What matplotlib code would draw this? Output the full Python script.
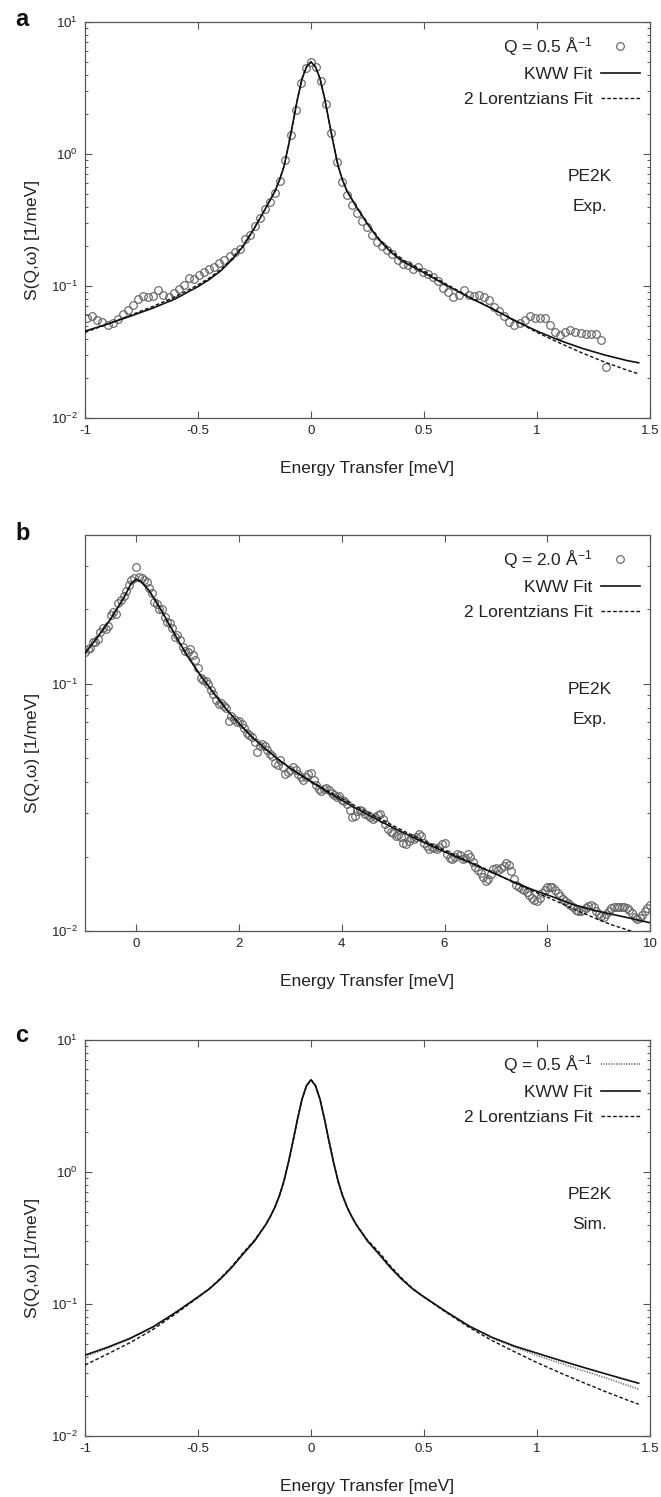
import numpy as np
import matplotlib
matplotlib.use("Agg")
import matplotlib.pyplot as plt
from matplotlib.ticker import FixedLocator, NullFormatter, NullLocator

plt.rcParams['font.family'] = ['Liberation Sans', 'DejaVu Sans']
plt.rcParams['mathtext.fontset'] = 'custom'
plt.rcParams['mathtext.rm'] = 'Liberation Sans'
plt.rcParams['mathtext.it'] = 'Liberation Sans:italic'
plt.rcParams['mathtext.bf'] = 'Liberation Sans:bold'

# ---------------- Panel a : experiment, Q = 0.5 1/A ----------------
a_data_E = [-0.990, -0.968, -0.945, -0.923, -0.900, -0.878, -0.855, -0.833, -0.810, -0.788,
            -0.765, -0.743, -0.720, -0.698, -0.675, -0.653, -0.630, -0.608, -0.585, -0.563,
            -0.540, -0.518, -0.495, -0.473, -0.450, -0.428, -0.405, -0.383, -0.360, -0.338,
            -0.315, -0.293, -0.270, -0.248, -0.225, -0.203, -0.180, -0.158, -0.135, -0.113,
            -0.090, -0.068, -0.045, -0.023, 0.000, 0.023, 0.045, 0.068, 0.090, 0.113,
            0.135, 0.158, 0.180, 0.203, 0.225, 0.248, 0.270, 0.293, 0.315, 0.338,
            0.360, 0.383, 0.405, 0.428, 0.450, 0.473, 0.495, 0.518, 0.540, 0.563,
            0.585, 0.608, 0.630, 0.653, 0.675, 0.698, 0.720, 0.743, 0.765, 0.788,
            0.810, 0.833, 0.855, 0.878, 0.900, 0.923, 0.945, 0.968, 0.990, 1.013,
            1.035, 1.058, 1.080, 1.103, 1.125, 1.148, 1.170, 1.193, 1.215, 1.238,
            1.260, 1.283, 1.305]
a_data_S = [0.057, 0.059, 0.055, 0.053, 0.051, 0.052, 0.056, 0.061, 0.066, 0.072,
            0.080, 0.084, 0.082, 0.084, 0.094, 0.085, 0.082, 0.089, 0.095, 0.101,
            0.114, 0.113, 0.122, 0.128, 0.134, 0.139, 0.149, 0.158, 0.170, 0.182,
            0.192, 0.228, 0.245, 0.285, 0.330, 0.385, 0.430, 0.505, 0.620, 0.900,
            1.40, 2.15, 3.45, 4.50, 5.00, 4.55, 3.55, 2.40, 1.45, 0.87,
            0.61, 0.49, 0.41, 0.36, 0.31, 0.28, 0.245, 0.215, 0.200, 0.188,
            0.175, 0.158, 0.148, 0.143, 0.134, 0.139, 0.127, 0.123, 0.118, 0.110,
            0.096, 0.090, 0.082, 0.086, 0.094, 0.085, 0.084, 0.086, 0.082, 0.078,
            0.069, 0.065, 0.059, 0.053, 0.051, 0.052, 0.055, 0.059, 0.057, 0.057,
            0.057, 0.051, 0.045, 0.0425, 0.045, 0.0465, 0.045, 0.0438, 0.0435, 0.0432,
            0.043, 0.039, 0.0245]

a_fit_E = [-1.00, -0.90, -0.80, -0.70, -0.60, -0.50, -0.45, -0.40, -0.35, -0.30,
           -0.25, -0.20, -0.16, -0.14, -0.12, -0.10, -0.08, -0.06, -0.04, -0.02,
           0.00, 0.02, 0.04, 0.06, 0.08, 0.10, 0.12, 0.14, 0.16, 0.20,
           0.25, 0.30, 0.35, 0.40, 0.45, 0.50, 0.60, 0.70, 0.80, 0.90,
           1.00, 1.10, 1.20, 1.30, 1.40, 1.45]
a_kww = [0.0455, 0.0515, 0.0590, 0.0680, 0.0800, 0.0990, 0.112, 0.130, 0.158, 0.200,
         0.275, 0.39, 0.52, 0.63, 0.80, 1.15, 1.72, 2.60, 3.70, 4.57,
         4.99, 4.57, 3.72, 2.65, 1.76, 1.18, 0.81, 0.63, 0.52, 0.40,
         0.295, 0.225, 0.183, 0.155, 0.140, 0.126, 0.101, 0.082, 0.0675, 0.0550,
         0.0455, 0.0387, 0.0337, 0.0300, 0.0272, 0.0262]
a_lor = [0.0445, 0.0515, 0.0600, 0.0700, 0.0830, 0.1020, 0.115, 0.133, 0.161, 0.203,
         0.277, 0.39, 0.52, 0.63, 0.80, 1.15, 1.72, 2.60, 3.70, 4.57,
         4.99, 4.57, 3.72, 2.65, 1.76, 1.18, 0.81, 0.63, 0.52, 0.40,
         0.297, 0.229, 0.188, 0.160, 0.144, 0.129, 0.103, 0.083, 0.0680, 0.0548,
         0.0445, 0.0370, 0.0311, 0.0265, 0.0230, 0.0216]

# ---------------- Panel b : experiment, Q = 2.0 1/A ----------------
b_data_E = [-1.00, -0.95, -0.90, -0.85, -0.80, -0.75, -0.70, -0.65, -0.60, -0.55,
            -0.50, -0.45, -0.40, -0.35, -0.30, -0.25, -0.20, -0.15, -0.10, -0.05,
            0.00, 0.05, 0.10, 0.15, 0.20, 0.25, 0.30, 0.35, 0.40, 0.45,
            0.50, 0.55, 0.60, 0.65, 0.70, 0.75, 0.80, 0.85, 0.90, 0.95,
            1.00, 1.05, 1.10, 1.15, 1.20, 1.25, 1.30, 1.35, 1.40, 1.45,
            1.50, 1.55, 1.60, 1.65, 1.70, 1.75, 1.80, 1.85, 1.90, 1.95,
            2.00, 2.05, 2.10, 2.15, 2.20, 2.25, 2.30, 2.35, 2.40, 2.45,
            2.50, 2.55, 2.60, 2.65, 2.70, 2.75, 2.80, 2.85, 2.90, 2.95,
            3.00, 3.05, 3.10, 3.15, 3.20, 3.25, 3.30, 3.35, 3.40, 3.45,
            3.50, 3.55, 3.60, 3.65, 3.70, 3.75, 3.80, 3.85, 3.90, 3.95,
            4.00, 4.05, 4.10, 4.15, 4.20, 4.25, 4.30, 4.35, 4.40, 4.45,
            4.50, 4.55, 4.60, 4.65, 4.70, 4.75, 4.80, 4.85, 4.90, 4.95,
            5.00, 5.05, 5.10, 5.15, 5.20, 5.25, 5.30, 5.35, 5.40, 5.45,
            5.50, 5.55, 5.60, 5.65, 5.70, 5.75, 5.80, 5.85, 5.90, 5.95,
            6.00, 6.05, 6.10, 6.15, 6.20, 6.25, 6.30, 6.35, 6.40, 6.45,
            6.50, 6.55, 6.60, 6.65, 6.70, 6.75, 6.80, 6.85, 6.90, 6.95,
            7.00, 7.05, 7.10, 7.15, 7.20, 7.25, 7.30, 7.35, 7.40, 7.45,
            7.50, 7.55, 7.60, 7.65, 7.70, 7.75, 7.80, 7.85, 7.90, 7.95,
            8.00, 8.05, 8.10, 8.15, 8.20, 8.25, 8.30, 8.35, 8.40, 8.45,
            8.50, 8.55, 8.60, 8.65, 8.70, 8.75, 8.80, 8.85, 8.90, 8.95,
            9.00, 9.05, 9.10, 9.15, 9.20, 9.25, 9.30, 9.35, 9.40, 9.45,
            9.50, 9.55, 9.60, 9.65, 9.70, 9.75, 9.80, 9.85, 9.90, 9.95,
            10.00]
b_data_S = [0.135, 0.138, 0.140, 0.147, 0.148, 0.152, 0.162, 0.168, 0.166, 0.172,
            0.190, 0.195, 0.192, 0.213, 0.218, 0.226, 0.238, 0.250, 0.262, 0.268,
            0.296, 0.270, 0.267, 0.262, 0.258, 0.244, 0.232, 0.215, 0.210, 0.201,
            0.200, 0.186, 0.178, 0.176, 0.168, 0.154, 0.158, 0.150, 0.141, 0.136,
            0.134, 0.138, 0.131, 0.125, 0.116, 0.106, 0.104, 0.103, 0.100, 0.094,
            0.091, 0.086, 0.083, 0.084, 0.081, 0.080, 0.071, 0.074, 0.072, 0.070,
            0.071, 0.069, 0.066, 0.063, 0.062, 0.061, 0.058, 0.053, 0.056, 0.057,
            0.056, 0.054, 0.052, 0.051, 0.048, 0.047, 0.049, 0.046, 0.043, 0.044,
            0.045, 0.046, 0.045, 0.043, 0.042, 0.041, 0.042, 0.043, 0.0435, 0.041,
            0.039, 0.0375, 0.037, 0.0375, 0.038, 0.0372, 0.036, 0.0355, 0.0347, 0.0352,
            0.0340, 0.0335, 0.0325, 0.0310, 0.0290, 0.0292, 0.0305, 0.0310, 0.0306, 0.0298,
            0.0294, 0.0288, 0.0284, 0.0290, 0.0295, 0.0298, 0.0285, 0.0270, 0.0258, 0.0252,
            0.0248, 0.0243, 0.0245, 0.0240, 0.0228, 0.0225, 0.0232, 0.0238, 0.0236, 0.0240,
            0.0246, 0.0243, 0.0226, 0.0220, 0.0215, 0.0218, 0.0216, 0.0214, 0.0218, 0.0225,
            0.0226, 0.0205, 0.0198, 0.0195, 0.0200, 0.0205, 0.0203, 0.0196, 0.0198, 0.0205,
            0.0200, 0.0190, 0.0182, 0.0176, 0.0172, 0.0165, 0.0160, 0.0163, 0.0170, 0.0178,
            0.0180, 0.0176, 0.0179, 0.0183, 0.0188, 0.0185, 0.0175, 0.0163, 0.0153, 0.0150,
            0.0148, 0.0146, 0.0144, 0.0140, 0.0136, 0.0133, 0.0132, 0.0136, 0.0142, 0.0147,
            0.0150, 0.0151, 0.0150, 0.0147, 0.0142, 0.0138, 0.0135, 0.0132, 0.0130, 0.0127,
            0.0125, 0.0122, 0.0121, 0.0120, 0.0122, 0.0124, 0.0126, 0.0127, 0.0125, 0.0121,
            0.0117, 0.0115, 0.0114, 0.0117, 0.0121, 0.0124, 0.0125, 0.0125, 0.0125, 0.0125,
            0.0125, 0.0124, 0.0122, 0.0118, 0.0114, 0.0112, 0.0113, 0.0116, 0.0120, 0.0124,
            0.0127]

b_fit_E = [-1.00, -0.75, -0.50, -0.25, -0.10, 0.00, 0.10, 0.25, 0.50, 0.75,
           1.00, 1.25, 1.50, 1.75, 2.00, 2.25, 2.50, 2.75, 3.00, 3.25,
           3.50, 3.75, 4.00, 4.25, 4.50, 4.75, 5.00, 5.25, 5.50, 5.75,
           6.00, 6.25, 6.50, 6.75, 7.00, 7.25, 7.50, 7.75, 8.00, 8.25,
           8.50, 8.75, 9.00, 9.25, 9.50, 9.75, 10.00]
b_kww = [0.133, 0.155, 0.183, 0.222, 0.255, 0.265, 0.258, 0.238, 0.196, 0.158,
         0.129, 0.108, 0.092, 0.079, 0.069, 0.061, 0.0548, 0.0497, 0.0455, 0.0420,
         0.0390, 0.0362, 0.0338, 0.0316, 0.0296, 0.0278, 0.0262, 0.0247, 0.0233, 0.0221,
         0.0209, 0.0199, 0.0189, 0.0179, 0.0170, 0.0161, 0.0153, 0.0146, 0.0140, 0.0134,
         0.0128, 0.0124, 0.0120, 0.0117, 0.0114, 0.0111, 0.0108]
b_lor = [0.133, 0.155, 0.183, 0.222, 0.255, 0.265, 0.258, 0.238, 0.196, 0.158,
         0.129, 0.108, 0.092, 0.079, 0.069, 0.061, 0.0548, 0.0497, 0.0456, 0.0422,
         0.0393, 0.0367, 0.0344, 0.0322, 0.0302, 0.0284, 0.0267, 0.0251, 0.0237, 0.0224,
         0.0212, 0.0201, 0.0190, 0.0180, 0.0170, 0.0161, 0.0152, 0.0144, 0.0137, 0.0130,
         0.0123, 0.0117, 0.0111, 0.0106, 0.0102, 0.0098, 0.0094]

# ---------------- Panel c : simulation, Q = 0.5 1/A ----------------
c_E = [-1.00, -0.90, -0.80, -0.70, -0.60, -0.50, -0.45, -0.40, -0.35, -0.30,
       -0.25, -0.20, -0.18, -0.16, -0.14, -0.12, -0.10, -0.08, -0.06, -0.04,
       -0.02, 0.00, 0.02, 0.04, 0.06, 0.08, 0.10, 0.12, 0.14, 0.16,
       0.18, 0.20, 0.25, 0.30, 0.35, 0.40, 0.45, 0.50, 0.60, 0.70,
       0.80, 0.90, 1.00, 1.10, 1.20, 1.30, 1.40, 1.45]
c_sim = [0.0400, 0.0462, 0.0545, 0.0665, 0.0860, 0.113, 0.130, 0.155, 0.190, 0.240,
         0.300, 0.40, 0.46, 0.54, 0.66, 0.85, 1.18, 1.70, 2.50, 3.55,
         4.50, 5.00, 4.50, 3.55, 2.50, 1.70, 1.18, 0.85, 0.66, 0.54,
         0.46, 0.40, 0.300, 0.240, 0.190, 0.155, 0.130, 0.113, 0.0870, 0.0680,
         0.0555, 0.0472, 0.0408, 0.0358, 0.0314, 0.0277, 0.0242, 0.0226]
c_kww = [0.0410, 0.0470, 0.0550, 0.0670, 0.0860, 0.113, 0.130, 0.155, 0.190, 0.240,
         0.300, 0.40, 0.46, 0.54, 0.66, 0.85, 1.18, 1.70, 2.50, 3.55,
         4.50, 5.00, 4.50, 3.55, 2.50, 1.70, 1.18, 0.85, 0.66, 0.54,
         0.46, 0.40, 0.300, 0.240, 0.190, 0.155, 0.130, 0.113, 0.0870, 0.0680,
         0.0560, 0.0480, 0.0424, 0.0375, 0.0333, 0.0297, 0.0265, 0.0251]
c_lor = [0.0345, 0.0418, 0.0510, 0.0640, 0.0840, 0.112, 0.131, 0.157, 0.193, 0.245,
         0.305, 0.40, 0.46, 0.54, 0.66, 0.85, 1.18, 1.70, 2.50, 3.55,
         4.50, 5.00, 4.50, 3.55, 2.50, 1.70, 1.18, 0.85, 0.66, 0.54,
         0.46, 0.40, 0.305, 0.248, 0.195, 0.158, 0.131, 0.113, 0.0860, 0.0665,
         0.0530, 0.0435, 0.0360, 0.0302, 0.0256, 0.0218, 0.0187, 0.0174]

x_ticks_ac = [-1, -0.5, 0, 0.5, 1, 1.5]
x_labels_ac = ['-1', '-0.5', '0', '0.5', '1', '1.5']
x_ticks_b = [0, 2, 4, 6, 8, 10]
x_labels_b = ['0', '2', '4', '6', '8', '10']
y_ticks_ac = [0.01, 0.1, 1, 10]
y_labels_ac = [r'$10^{-2}$', r'$10^{-1}$', r'$10^{0}$', r'$10^{1}$']
y_ticks_b = [0.01, 0.1]
y_labels_b = [r'$10^{-2}$', r'$10^{-1}$']

# ---------------- figure ----------------
W, H = 661, 1497
fig = plt.figure(figsize=(W / 100, H / 100), dpi=100)
fig.patch.set_facecolor('white')

L = 85 / W
AW = 565 / W
AH = 396 / H
tops = [22, 535, 1040]
axes = [fig.add_axes([L, 1 - (t + 396) / H, AW, AH]) for t in tops]

FS = 12.5
TFS = 9.5
LINE = '#111111'
SPINE = '#555555'
MARK = '#666666'


def minor_log(lo, hi):
    out = []
    d = 10.0 ** np.floor(np.log10(lo))
    while d < hi:
        for k in range(2, 10):
            v = k * d
            if lo < v < hi * 1.0001:
                out.append(v)
        d *= 10
    return out


def style(ax, xlim, ylim, xt, xl, yt, yl):
    ax.set_yscale('log')
    ax.set_xlim(*xlim)
    ax.set_ylim(*ylim)
    ax.set_xticks(xt)
    ax.set_xticklabels(xl)
    ax.set_yticks(yt)
    ax.set_yticklabels(yl)
    ax.yaxis.set_minor_locator(FixedLocator(minor_log(ylim[0], ylim[1])))
    ax.yaxis.set_minor_formatter(NullFormatter())
    ax.xaxis.set_minor_locator(NullLocator())
    ax.tick_params(which='both', direction='in', top=True, right=True,
                   colors=SPINE, labelcolor='#222222', labelsize=TFS)
    ax.tick_params(which='major', length=5, width=0.8, pad=5)
    ax.tick_params(which='minor', length=2.5, width=0.7)
    for s in ax.spines.values():
        s.set_color(SPINE)
        s.set_linewidth(0.9)
    ax.set_xlabel('Energy Transfer [meV]', fontsize=FS, color='#222222')
    ax.set_ylabel('S(Q,ω) [1/meV]', fontsize=FS, color='#222222')
    ax.xaxis.set_label_coords(0.5, -0.108)
    ax.yaxis.set_label_coords(-0.080, 0.45)


def legend(ax):
    leg = ax.legend(loc='upper right', bbox_to_anchor=(1 - 10 / 565, 1 - 13 / 396),
                    frameon=False, markerfirst=False, fontsize=FS,
                    handlelength=2.25, handletextpad=0.5, labelspacing=0.56,
                    borderpad=0, borderaxespad=0, numpoints=1)
    for t in leg.get_texts():
        t.set_color('#222222')


def annot(ax, second):
    ax.text(0.894, 0.61, 'PE2K', transform=ax.transAxes, ha='center', va='center',
            fontsize=FS, color='#222222')
    ax.text(0.894, 0.533, second, transform=ax.transAxes, ha='center', va='center',
            fontsize=FS, color='#222222')


dash = (0, (2.6, 1.6))
mk = dict(marker='o', ls='none', mfc='none', mec=MARK, ms=5.5, mew=0.85)

# panel a
ax = axes[0]
ax.plot(a_data_E, a_data_S, label=r'Q = 0.5 Å$^{-1}$', zorder=2, **mk)
ax.plot(a_fit_E, a_kww, color=LINE, lw=1.2, label='KWW Fit', zorder=4)
ax.plot(a_fit_E, a_lor, color=LINE, lw=1.0, ls=dash, label='2 Lorentzians Fit', zorder=3)
style(ax, (-1, 1.5), (0.01, 10), x_ticks_ac, x_labels_ac, y_ticks_ac, y_labels_ac)
legend(ax)
annot(ax, 'Exp.')

# panel b
ax = axes[1]
ax.plot(b_data_E, b_data_S, label=r'Q = 2.0 Å$^{-1}$', zorder=2, **mk)
ax.plot(b_fit_E, b_kww, color=LINE, lw=1.2, label='KWW Fit', zorder=4)
ax.plot(b_fit_E, b_lor, color=LINE, lw=1.0, ls=dash, label='2 Lorentzians Fit', zorder=3)
style(ax, (-1, 10), (0.01, 0.4), x_ticks_b, x_labels_b, y_ticks_b, y_labels_b)
legend(ax)
annot(ax, 'Exp.')

# panel c
ax = axes[2]
ax.plot(c_E, c_sim, color='#6a6a6a', lw=1.3, ls=(0, (0.6, 0.8)), label=r'Q = 0.5 Å$^{-1}$', zorder=2)
ax.plot(c_E, c_kww, color=LINE, lw=1.2, label='KWW Fit', zorder=4)
ax.plot(c_E, c_lor, color=LINE, lw=1.0, ls=dash, label='2 Lorentzians Fit', zorder=3)
style(ax, (-1, 1.5), (0.01, 10), x_ticks_ac, x_labels_ac, y_ticks_ac, y_labels_ac)
legend(ax)
annot(ax, 'Sim.')

for letter, t in zip(['a', 'b', 'c'], [20, 533, 1035]):
    fig.text(15 / W, 1 - t / H, letter, fontsize=17, fontweight='bold',
             ha='left', va='center', color='#111111')

fig.savefig('out.png', dpi=100, facecolor='white')
